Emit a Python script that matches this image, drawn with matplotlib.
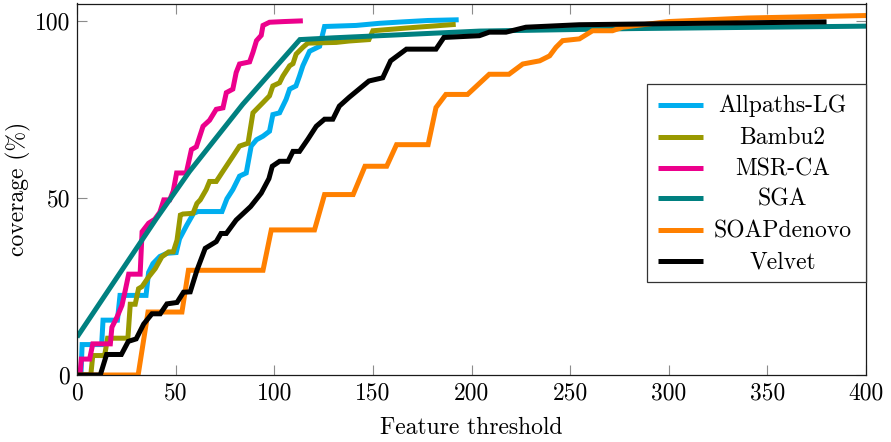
import matplotlib
matplotlib.use("Agg")
import matplotlib.pyplot as plt
from matplotlib.patches import Rectangle

plt.rcParams['font.family'] = ['cmr10', 'DejaVu Serif']
plt.rcParams['axes.unicode_minus'] = False
plt.rcParams['axes.formatter.use_mathtext'] = True

# ---------------- data ----------------
series_names = ["Allpaths-LG", "Bambu2", "MSR-CA", "SGA", "SOAPdenovo", "Velvet"]
series_colors = ["#00AEEF", "#999900", "#EC008C", "#008080", "#FF8000", "#000000"]

allpaths_x = [0, 2, 2.6, 12.5, 13.2, 20.5, 21.8, 35, 36.3, 38.5, 42, 45.6, 50.3, 52, 55.7, 59.1, 61.3,
              73.5, 76, 79, 82.4, 85.8, 88.3, 91, 94.3, 97.6, 99.3, 102.7, 106, 107.8, 111, 112.8,
              114.5, 117.9, 123, 125.5, 141.5, 153.3, 165, 178, 193.5]
allpaths_y = [0, 0, 8.6, 8.6, 15.5, 15.5, 22.5, 22.5, 29, 31.5, 33.5, 34.4, 34.6, 38.5, 42.4, 45.7, 46.2,
              46.2, 49.8, 52.4, 56.2, 57.1, 64.7, 66.5, 67.5, 68.9, 73.6, 74.1, 77.9, 80.8, 81.7, 84.5,
              87.4, 91.5, 92.9, 98.5, 98.8, 99.4, 99.8, 100.2, 100.4]

bambu_x = [0, 7, 8, 14, 15.5, 25.8, 27, 29.5, 31.2, 33, 36.3, 39.7, 43, 46.5, 48.8, 50.7, 52.4, 53.7,
           58.8, 60.8, 62.5, 65.5, 67.2, 70.6, 74, 79, 82.4, 86.7, 89.2, 94.3, 97.6, 99.3, 102.7,
           104.4, 107.8, 109.5, 111.1, 114.5, 117, 131.4, 138, 148, 150, 170, 192]
bambu_y = [0, 0, 5.5, 5.5, 10.4, 10.4, 20, 20, 24.4, 25, 27.7, 30.1, 33.4, 34.8, 34.8, 38.1, 45.2, 45.5,
           45.7, 48.5, 49.5, 52.4, 54.7, 54.7, 57.6, 61.8, 64.7, 65.5, 74.1, 77, 78.9, 81.7, 82.6,
           84.5, 87.4, 88, 90.7, 92.6, 93.8, 94, 94.4, 94.8, 97.3, 98.2, 99.1]

msrca_x = [0, 1.5, 2.2, 6.4, 8, 16.9, 17.7, 20.3, 22.8, 24.5, 26.2, 32, 33, 36.3, 39.4, 42, 44, 47,
           48.8, 50.5, 55.4, 58, 60.5, 63.9, 67.2, 70.6, 74, 75.7, 79, 80.7, 82.4, 87.5, 89.2, 91,
           93.4, 94.3, 97.6, 105, 114.5]
msrca_y = [0, 0, 4.5, 4.5, 8.8, 8.8, 13.5, 16.4, 19.7, 24, 28.5, 28.5, 40.5, 42.9, 44, 46, 49.5, 49.5,
           52, 57.1, 57.1, 63.7, 64.5, 70.3, 72, 75.1, 75.5, 79.8, 80.8, 85.5, 87.9, 88.5, 91.2, 94.5,
           96, 98.8, 99.7, 99.9, 100.1]

sga_x = [0, 40, 57, 84, 113, 130, 204, 280, 400]
sga_y = [10.7, 44, 57.5, 76.5, 94.8, 95.3, 97.2, 97.9, 98.6]

soap_x = [0, 31, 36, 53.2, 56.5, 94.3, 98.5, 120.4, 125.5, 140, 146, 157, 162, 178, 182, 187, 198,
          209, 219, 226, 234.6, 239.6, 242.8, 246.2, 254.7, 261.4, 271.5, 276.6, 300, 340, 400]
soap_y = [0, 0, 17.8, 17.8, 29.6, 29.6, 41, 41, 51, 51, 59, 59, 65.1, 65.1, 75.6, 79.3, 79.3,
          85, 85, 87.9, 88.8, 90.2, 92.6, 94.5, 95, 97.3, 97.3, 98.3, 99.9, 100.9, 101.6]

velvet_x = [0, 11.8, 15, 22.5, 26, 30, 33.8, 38, 42.2, 45.6, 50.7, 54, 57.4, 60.8, 65, 70.6, 73, 75.7,
            80.7, 88, 93.4, 97.3, 99, 102.7, 107, 109.5, 112.8, 117, 121.3, 125.5, 129.7, 133, 138,
            148, 155, 159, 167, 182, 186, 204, 209, 217.5, 227.6, 254.6, 300, 380]
velvet_y = [0, 0, 5.8, 5.8, 9.5, 10.2, 14.4, 17.3, 17.3, 20.1, 20.5, 23.4, 23.5, 29.6, 35.8, 37.7, 40, 40,
            43.8, 47.6, 51.4, 55.5, 59, 60.4, 60.4, 63.2, 63.2, 66.6, 70.3, 72.3, 72.3, 76, 78.5,
            83.1, 84, 88.8, 92.1, 92.1, 95.4, 95.9, 96.9, 96.9, 98.3, 99.0, 99.3, 99.8]

series_x = [allpaths_x, bambu_x, msrca_x, sga_x, soap_x, velvet_x]
series_y = [allpaths_y, bambu_y, msrca_y, sga_y, soap_y, velvet_y]

x_ticks = [0, 50, 100, 150, 200, 250, 300, 350, 400]
y_ticks = [0, 50, 100]
x_label = "Feature threshold"
y_label = "coverage (%)"

# ---------------- figure ----------------
FS = 17
LW = 3.6
fig = plt.figure(figsize=(8.91, 4.42), dpi=100)
ax = fig.add_axes([77 / 891, 1 - 375 / 442, 789 / 891, 371.5 / 442])

for xs, ys, c in zip(series_x, series_y, series_colors):
    ax.plot(xs, ys, color=c, lw=LW, solid_joinstyle='miter', solid_capstyle='butt')

ax.set_xlim(0, 400)
ax.set_ylim(0, 105)
ax.set_xticks(x_ticks)
ax.set_yticks(y_ticks)
ax.set_xticklabels([str(v) for v in x_ticks])
ax.set_yticklabels([str(v) for v in y_ticks])
ax.tick_params(direction='in', top=True, right=True, length=7.5, width=0.8,
               color='#8c8c8c', labelsize=FS, labelcolor='black')
ax.tick_params(axis='x', pad=5)
ax.tick_params(axis='y', pad=5)
for s in ax.spines.values():
    s.set_linewidth(0.9)
    s.set_color('#1a1a1a')
ax.set_xlabel(x_label, fontsize=FS, labelpad=9)
ax.set_ylabel(y_label, fontsize=FS, labelpad=3)

# ---------------- legend (pgfplots style, centred text) ----------------
bx0, bx1 = 0.7224, 1.0
by0, by1 = 0.2503, 0.7833
ax.add_patch(Rectangle((bx0, by0), bx1 - bx0, by1 - by0, transform=ax.transAxes,
                       facecolor='white', edgecolor='#333333', lw=0.9, zorder=5, clip_on=False))
row_y = [0.7268, 0.6415, 0.5579, 0.4755, 0.3903, 0.3069]
for name, c, ry in zip(series_names, series_colors, row_y):
    ax.plot([0.7364, 0.7934], [ry, ry], transform=ax.transAxes, color=c, lw=LW,
            solid_capstyle='butt', zorder=6, clip_on=False)
    ax.text(0.8942, ry - 0.0197, name, transform=ax.transAxes, ha='center', va='baseline',
            fontsize=FS, zorder=6)

fig.savefig("out.png", dpi=100)
